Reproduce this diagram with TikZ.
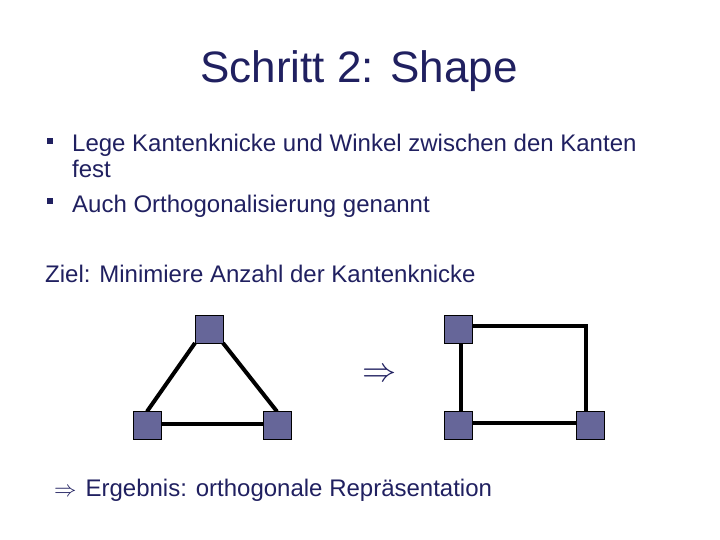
\documentclass[tikz,border=0pt]{standalone}
\usepackage{graphicx}
\usepackage{fontspec}
\setmainfont{Liberation Sans}
\usetikzlibrary{backgrounds}
\definecolor{navy}{HTML}{202060}
\definecolor{vfill}{HTML}{666699}
\tikzset{
  vtx/.style={draw=black, line width=0.8pt, fill=vfill, minimum size=28pt, inner sep=0pt, outer sep=0pt},
  edge/.style={line width=4pt, black},
  txt/.style={anchor=base west, inner sep=0pt, text=navy, font=\fontsize{24}{28}\selectfont},
  bul/.style={fill=navy, minimum size=6pt, inner sep=0pt},
}
\begin{document}
\begin{tikzpicture}[x=1pt,y=-1pt]
\useasboundingbox (0,0) rectangle (720,540);
\node[anchor=base, inner sep=0pt, text=navy, font=\fontsize{44}{50}\selectfont] (title) at (359,83) {Schritt 2: Shape};
\node[bul] (b1) at (50,141) {};
\node[txt] (l1) at (72,152) {Lege Kantenknicke und Winkel zwischen den Kanten};
\node[txt] (l2) at (72,178) {fest};
\node[bul] (b2) at (50,201) {};
\node[txt] (l3) at (72,213) {Auch Orthogonalisierung genannt};
\node[txt] (ziel) at (45,282) {Ziel: Minimiere Anzahl der Kantenknicke};
\node[anchor=center, inner sep=0pt, text=navy, font=\fontsize{24}{28}\selectfont] (arr) at (380,375) {\scalebox{1.37}{$\Rightarrow$}};
\node[txt] (erg) at (54,496) {\scalebox{0.9}{$\Rightarrow$}\hspace{9pt}Ergebnis: orthogonale Repräsentation};
% triangle
\node[vtx] (t1) at (209,329) {};
\node[vtx] (t2) at (147,425.5) {};
\node[vtx] (t3) at (277,425.5) {};
% square
\node[vtx] (s1) at (458.5,329) {};
\node[vtx] (s2) at (458.5,425.5) {};
\node[vtx] (s3) at (590,425.5) {};
\coordinate (k) at (586,326);
\begin{pgfonlayer}{background}
\draw[edge] (t1.south west) -- (t2.north);
\draw[edge] (t1.south east) -- (t3.north);
\draw[edge] ([yshift=2]t2.center) -- ([yshift=2]t3.center);
\draw[edge] ([yshift=3]s1.center) -- (k) -- (k |- s3.center);
\draw[edge] ([xshift=2.5]s1.center) -- ([xshift=2.5]s2.center);
\draw[edge] ([yshift=2.5]s2.center) -- ([yshift=2.5]s3.center);
\end{pgfonlayer}
\end{tikzpicture}
\end{document}
